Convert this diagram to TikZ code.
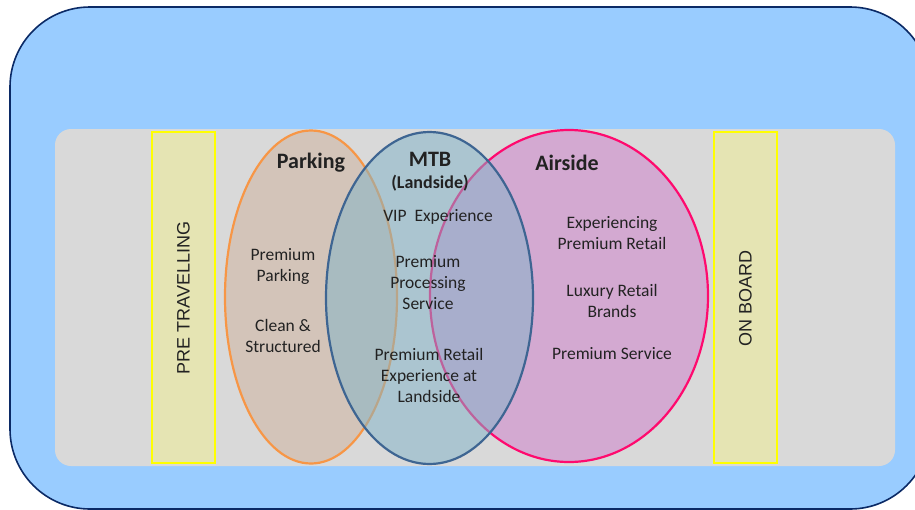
\documentclass[tikz,border=0pt]{standalone}
\usepackage{fontspec}
\setmainfont{Carlito}
\newfontfamily\arialf{Liberation Sans}
\usetikzlibrary{shapes.geometric}

\definecolor{skyfill}{HTML}{99CCFF}
\definecolor{navyedge}{HTML}{0B2A66}
\definecolor{bandgray}{HTML}{D9D9D9}
\definecolor{phasefill}{HTML}{E5E4B3}
\definecolor{phaseedge}{HTML}{FFFF00}
\definecolor{parkfill}{HTML}{D3C4B9}
\definecolor{parkedge}{HTML}{F79646}
\definecolor{mtbfill}{HTML}{82B4C8}
\definecolor{mtbedge}{HTML}{3E6592}
\definecolor{airfill}{HTML}{D3A9D1}
\definecolor{airedge}{HTML}{FF0A6E}
\definecolor{inktext}{HTML}{222222}

\tikzset{
  zone/.style={ellipse, inner sep=0pt, line width=2.2pt},
  title/.style={font=\fontsize{22}{24}\selectfont\bfseries, text=inktext},
  subtitle/.style={font=\fontsize{18}{20}\selectfont\bfseries, text=inktext},
  item/.style={font=\fontsize{17.5}{21}\selectfont, text=inktext, align=center},
  phasebox/.style={draw=phaseedge, fill=phasefill, line width=1.6pt},
  phaselabel/.style={font=\arialf\fontsize{18}{20}\selectfont, text=inktext, rotate=90}
}

\begin{document}
\begin{tikzpicture}[x=1pt, y=-1pt]
  \useasboundingbox (0,0) rectangle (915,509);
  \clip (0,0) rectangle (915,509);

  % outer panel and grey band
  \draw[fill=skyfill, draw=navyedge, line width=1.6pt, rounded corners=80pt]
    (10,7) rectangle (930,509);
  \fill[bandgray, rounded corners=16pt] (55,129) rectangle (895,466);

  % travel phases at both ends
  \draw[phasebox] (152,132) rectangle (215,463);
  \draw[phasebox] (714,132) rectangle (777,463);
  \node[phaselabel] (pre) at (183.5,298) {PRE TRAVELLING};
  \node[phaselabel] (onboard) at (745.5,298) {ON BOARD};

  % zones
  \node[zone, draw=parkedge, fill=parkfill, minimum width=172pt, minimum height=333pt]
    (parking) at (311,297) {};
  \node[zone, draw=airedge, fill=airfill, minimum width=278pt, minimum height=332pt]
    (airside) at (569,296) {};
  \node[zone, draw=mtbedge, fill=mtbfill, fill opacity=0.52, minimum width=207pt, minimum height=332pt]
    (mtb) at (429.5,298) {};

  % zone titles
  \node[title] (tpark) at (311,163) {Parking};
  \node[title] (tmtb) at (430,159) {MTB};
  \node[subtitle] (tland) at (430,183) {(Landside)};
  \node[title] (tair) at (567,163) {Airside};

  % parking items
  \node[item] (p1) at (283,266) {Premium\\Parking};
  \node[item] (p2) at (283,336) {Clean \&\\Structured};

  % landside items
  \node[item] (m1) at (438,217) {VIP\ \ Experience};
  \node[item] (m2) at (428,283) {Premium\\Processing\\Service};
  \node[item] (m3) at (429,375) {Premium Retail\\Experience at\\Landside};

  % airside items
  \node[item] (a1) at (612,233) {Experiencing\\Premium Retail};
  \node[item] (a2) at (612,301) {Luxury Retail\\Brands};
  \node[item] (a3) at (612,354) {Premium Service};
\end{tikzpicture}
\end{document}
